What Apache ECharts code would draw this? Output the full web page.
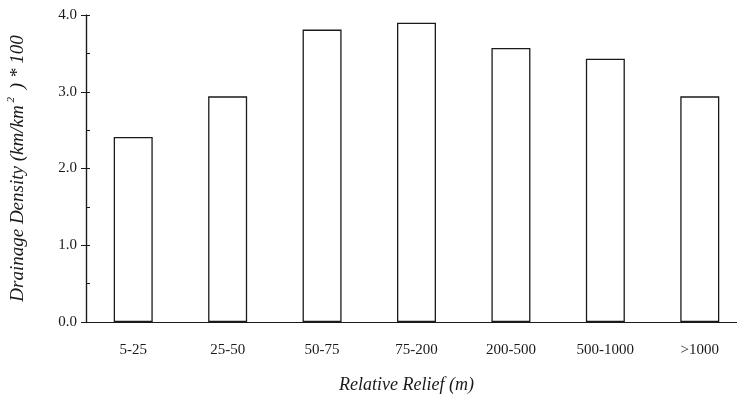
<!DOCTYPE html>
<html>
<head>
<meta charset="utf-8">
<script src="https://cdn.jsdelivr.net/npm/echarts@6/dist/echarts.min.js"></script>
<style>
  html, body { margin: 0; padding: 0; background: #fff; }
  #chart { width: 737px; height: 396px; }
</style>
</head>
<body>
<div id="chart"></div>
<script>
  var categories = ['5-25', '25-50', '50-75', '75-200', '200-500', '500-1000', '>1000'];
  var density = [2.41, 2.94, 3.81, 3.90, 3.57, 3.43, 2.94];

  var ink = '#1a1a1a';
  var serif = '"Liberation Serif", "DejaVu Serif", serif';

  var myChart = echarts.init(document.getElementById('chart'));
  myChart.setOption({
    animation: false,
    grid: {
      left: 86,
      top: 15,
      width: 661,
      height: 307,
      outerBoundsMode: 'none'
    },
    xAxis: {
      type: 'category',
      data: categories,
      name: 'Relative Relief (m)',
      nameLocation: 'middle',
      nameGap: 54,
      nameTextStyle: {
        fontFamily: serif,
        fontStyle: 'italic',
        fontSize: 18,
        color: ink,
        padding: [0, 20, 0, 0]
      },
      axisLine: { lineStyle: { color: ink, width: 1.2 } },
      axisTick: { show: false },
      axisLabel: {
        margin: 21,
        fontFamily: serif,
        fontSize: 15,
        color: ink
      }
    },
    yAxis: [{
      type: 'value',
      min: 0,
      max: 4,
      interval: 1,
      name: 'Drainage Density (km/km{sup|2} ) * 100',
      nameLocation: 'middle',
      nameGap: 57,
      nameTextStyle: {
        fontFamily: serif,
        fontStyle: 'italic',
        fontSize: 19,
        color: ink,
        rich: {
          sup: {
            fontFamily: serif,
            fontStyle: 'italic',
            fontSize: 11,
            color: ink,
            padding: [0, 3, 12, 3]
          }
        }
      },
      axisLine: { show: true, lineStyle: { color: ink, width: 1.2 } },
      axisTick: { show: true, inside: false, length: 5, lineStyle: { color: ink } },
      axisLabel: {
        margin: 9,
        fontFamily: serif,
        fontSize: 15,
        color: ink,
        formatter: function (v) { return v.toFixed(1); }
      },
      splitLine: { show: false }
    }, {
      type: 'value',
      position: 'left',
      min: 0,
      max: 4,
      interval: 0.5,
      axisLine: { show: true, lineStyle: { color: ink, width: 1.2 } },
      axisTick: { show: true, inside: true, length: 4, lineStyle: { color: ink } },
      axisLabel: { show: false },
      splitLine: { show: false }
    }],
    series: [{
      type: 'bar',
      data: density,
      barWidth: 39,
      itemStyle: {
        color: '#fff',
        borderColor: ink,
        borderWidth: 1.3
      }
    }]
  });
</script>
</body>
</html>
